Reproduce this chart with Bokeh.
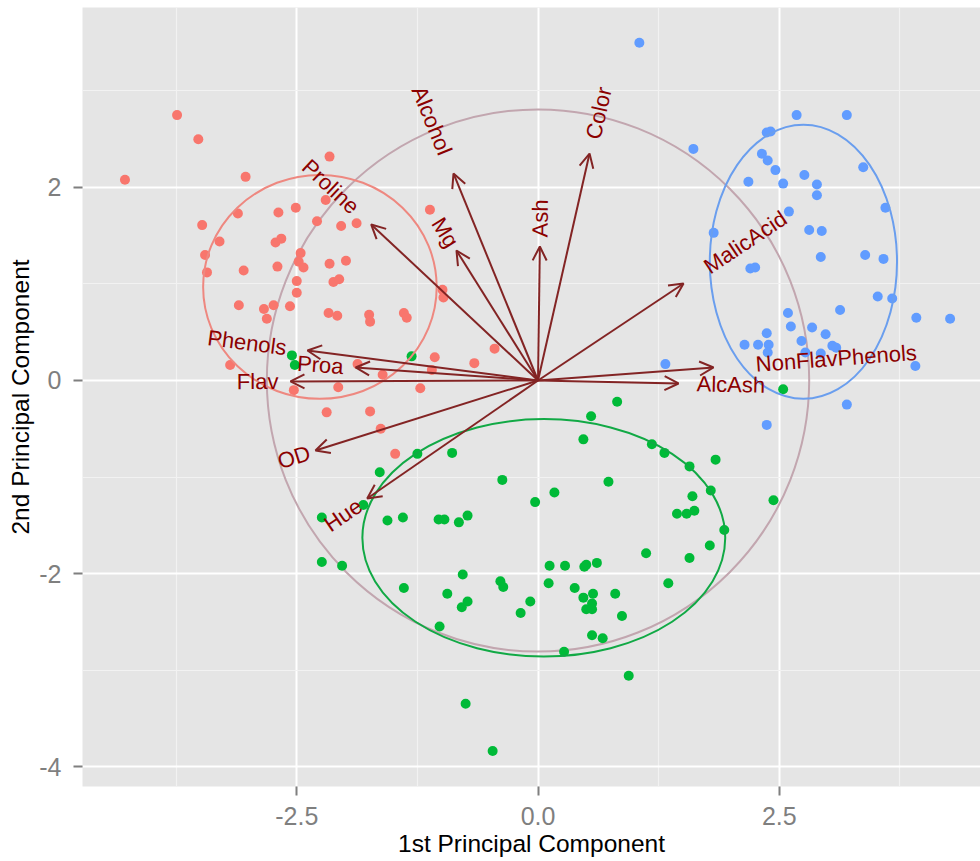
import math
from bokeh.plotting import figure
from bokeh.models import (ColumnDataSource, Arrow, OpenHead, FixedTicker,
                          PrintfTickFormatter, Range1d)
from bokeh.core.properties import value
from bokeh.embed import file_html
from bokeh.resources import INLINE

# ---- scores of the 3 wine classes on PC1 / PC2 ----
class1_pc1 = [-4.28, -3.74, -3.52, -3.03, -2.16, -2.20, -2.51, -2.69, -3.11, -3.48,
              -2.29, -2.04, -1.88, -1.12, -3.30, -2.72, -2.66, -3.45, -3.43, -3.05,
              -2.70, -2.46, -2.48, -2.43, -2.16, -1.99, -2.12, -2.06, -2.50, -2.50,
              -3.10, -2.84, -2.74, -2.81, -2.57, -2.17, -2.08, -1.75, -1.74, -1.39,
              -1.36, -0.99, -0.98, -3.19, -2.53, -1.87, -1.61, -2.07, -1.22, -1.07,
              -1.10, -2.19, -1.74, -1.63, -1.48, -0.45, -0.66]
class1_pc2 = [2.08, 2.75, 2.50, 2.11, 2.32, 1.87, 1.79, 1.74, 1.73, 1.61,
              1.65, 1.60, 1.63, 1.77, 1.44, 1.43, 1.47, 1.30, 1.12, 1.14,
              1.18, 1.32, 1.23, 1.17, 1.21, 1.24, 1.02, 1.05, 1.03, 0.91,
              0.78, 0.74, 0.78, 0.64, 0.77, 0.70, 0.67, 0.68, 0.61, 0.70,
              0.65, 0.94, 0.86, 0.16, -0.10, 0.17, 0.06, -0.07, -0.08, 0.24,
              0.11, -0.33, -0.32, -0.50, -0.76, 0.33, 0.18]

class2_pc1 = [-2.55, -2.52, -1.31, -1.25, -0.89, 2.54, 0.82, 0.55, 0.47, 1.18,
              1.31, 1.57, 1.84, 1.79, 1.60, 1.44, 1.54, 1.62, 1.93, 1.78,
              1.57, 1.12, 0.73, 0.17, -0.03, -0.37, -1.64, -1.81, -2.24, -1.56,
              -1.40, -1.03, -0.97, -0.82, -0.73, -2.24, -2.03, -0.78, 0.12, 0.28,
              0.48, 0.50, 0.61, -0.39, -0.36, 0.11, 1.35, -1.39, -0.94, -0.79,
              -0.73, -0.08, -0.18, -1.02, 0.38, 0.47, 0.57, 0.56, 0.50, 0.56,
              0.80, 0.87, 0.56, 0.67, 0.27, 0.94, -0.75, -0.47, 2.44]
class2_pc2 = [0.26, 0.16, 0.25, -0.76, -0.75, -0.09, -0.22, -0.37, -0.61, -0.66,
              -0.75, -0.89, -0.82, -1.14, -1.20, -1.38, -1.38, -1.35, -1.55, -1.71,
              -1.84, -1.79, -1.05, -1.16, -1.26, -1.03, -0.95, -1.29, -1.42, -1.45,
              -1.42, -1.44, -1.44, -1.47, -1.40, -1.88, -1.92, -2.01, -1.92, -1.92,
              -1.93, -1.91, -1.89, -2.08, -2.14, -2.10, -2.10, -2.15, -2.21, -2.35,
              -2.29, -2.29, -2.41, -2.55, -2.15, -2.25, -2.21, -2.31, -2.37, -2.37,
              -2.21, -2.44, -2.64, -2.67, -2.81, -3.06, -3.35, -3.84, -1.24]

class3_pc1 = [1.05, 1.61, 2.68, 3.20, 2.37, 2.41, 2.32, 2.38, 2.46, 2.18,
              2.54, 2.76, 2.89, 2.89, 3.37, 3.60, 2.60, 1.82, 2.81, 2.94,
              2.93, 3.39, 3.58, 2.20, 2.25, 3.52, 3.67, 3.13, 3.92, 4.27,
              2.59, 2.62, 2.84, 2.98, 2.37, 2.14, 2.28, 2.39, 2.38, 2.73,
              2.77, 2.93, 3.05, 3.09, 3.91, 1.32, 3.20, 2.37]
class3_pc2 = [3.50, 2.40, 2.75, 2.75, 2.57, 2.58, 2.35, 2.28, 2.18, 2.06,
              2.04, 2.13, 2.03, 1.92, 2.21, 1.79, 1.75, 1.53, 1.56, 1.55,
              1.28, 1.30, 1.26, 1.16, 1.17, 0.87, 0.85, 0.73, 0.65, 0.64,
              0.70, 0.56, 0.55, 0.48, 0.49, 0.37, 0.37, 0.37, 0.29, 0.41,
              0.29, 0.28, 0.36, 0.34, 0.15, 0.17, -0.25, -0.46]

# ---- variable loadings (arrows) ----
var_names = ["Alcohol", "MalicAcid", "Ash", "AlcAsh", "Mg", "Phenols", "Flav",
             "NonFlavPhenols", "Proa", "Color", "Hue", "OD", "Proline"]
var_pc1 = [-0.876, 1.508, 0.019, 1.456, -0.845, -2.389, -2.565,
           1.819, -1.890, 0.534, -1.770, -2.306, -1.729]
var_pc2 = [2.145, 1.005, 1.389, -0.031, 1.347, 0.311, -0.010,
           0.135, 0.135, 2.352, -1.223, -0.725, 1.617]

# ---- 68% normal ellipses per class ----
ell_cx = [-2.26, 0.06, 2.75]
ell_cy = [0.97, -1.63, 1.23]
ell_rx = [1.21, 1.88, 0.97]
ell_ry = [1.16, 1.23, 1.42]
circle_r = 2.81

group_colors = ["#F8766D", "#00BA38", "#619CFF"]
ellipse_colors = ["#EE8880", "#11A945", "#6A9EEE"]
arrow_color = "#832424"
label_color = "#8B0000"
FONT = "Liberation Sans"

p = figure(width=980, height=861, output_backend="svg", toolbar_location=None,
           x_range=Range1d(-4.720, 4.585), y_range=Range1d(-4.207, 3.865),
           min_border_left=82, min_border_right=0, min_border_top=7,
           min_border_bottom=75,
           background_fill_color="#E5E5E5", border_fill_color="white",
           outline_line_color=None)

# grid
p.xaxis.ticker = FixedTicker(ticks=[-2.5, 0, 2.5], minor_ticks=[-3.75, -1.25, 1.25, 3.75])
p.yaxis.ticker = FixedTicker(ticks=[-4, -2, 0, 2], minor_ticks=[-3, -1, 1, 3])
p.xaxis.formatter = PrintfTickFormatter(format="%.1f")
p.yaxis.formatter = PrintfTickFormatter(format="%d")
for g in (p.xgrid, p.ygrid):
    g.grid_line_color = "white"
    g.grid_line_width = 2
    g.minor_grid_line_color = "#F2F2F2"
    g.minor_grid_line_width = 1.2

for ax in (p.xaxis, p.yaxis):
    ax.axis_line_color = None
    ax.major_tick_line_color = "#7F7F7F"
    ax.major_tick_line_width = 2
    ax.major_tick_out = 9
    ax.major_tick_in = 0
    ax.minor_tick_line_color = None
    ax.major_label_text_font = FONT
    ax.major_label_text_font_size = "25px"
    ax.major_label_text_color = "#7F7F7F"
    ax.axis_label_text_font = FONT
    ax.axis_label_text_font_size = "24.5px"
    ax.axis_label_text_font_style = "normal"
    ax.axis_label_text_color = "black"

p.xaxis.major_label_standoff = 11
p.xaxis.axis_label_standoff = 2
p.yaxis.major_label_standoff = 12
p.yaxis.axis_label_standoff = 2

p.xaxis.axis_label = "1st Principal Component"
p.yaxis.axis_label = "2nd Principal Component"

# correlation circle
p.ellipse(x=[0], y=[0], width=[2 * circle_r], height=[2 * circle_r],
          fill_color=None, line_color="#C2A6AF", line_width=2)

# arrows
arr_src = ColumnDataSource(dict(x0=[0.0] * len(var_names), y0=[0.0] * len(var_names),
                                x1=var_pc1, y1=var_pc2))
p.add_layout(Arrow(end=OpenHead(size=14, line_color=arrow_color, line_width=2),
                   x_start="x0", y_start="y0", x_end="x1", y_end="y1",
                   source=arr_src, line_color=arrow_color, line_width=2))

# points
for xs, ys, col in ((class1_pc1, class1_pc2, group_colors[0]),
                    (class2_pc1, class2_pc2, group_colors[1]),
                    (class3_pc1, class3_pc2, group_colors[2])):
    p.scatter(x=xs, y=ys, size=10, fill_color=col, line_color=None)

# ellipses
p.ellipse(x=ell_cx, y=ell_cy, width=[2 * r for r in ell_rx],
          height=[2 * r for r in ell_ry], fill_color=None,
          line_color=ellipse_colors, line_width=2)

# variable labels (ggbiplot style: angle along arrow, hjust = (1 - 1.5*sign)/2)
FS = 22
pos = dict(x=[], y=[], t=[], a=[], xo=[], yo=[])
neg = dict(x=[], y=[], t=[], a=[], xo=[], yo=[])
for name, vx, vy in zip(var_names, var_pc1, var_pc2):
    ang = math.atan(vy / vx)
    pad = 0.25 * 0.55 * FS * len(name)
    if vx > 0:
        d = pos
        xo, yo = pad * math.cos(ang), -pad * math.sin(ang)
    else:
        d = neg
        xo, yo = -pad * math.cos(ang), pad * math.sin(ang)
    d["x"].append(vx); d["y"].append(vy); d["t"].append(name)
    d["a"].append(ang); d["xo"].append(xo); d["yo"].append(yo)

for d, align in ((pos, "left"), (neg, "right")):
    p.text(x="x", y="y", text="t", angle="a", x_offset="xo", y_offset="yo",
           source=ColumnDataSource(d), text_align=align, text_baseline="middle",
           text_font=value(FONT), text_font_size=f"{FS}px", text_color=label_color)

open("out.html", "w").write(file_html(p, INLINE))
